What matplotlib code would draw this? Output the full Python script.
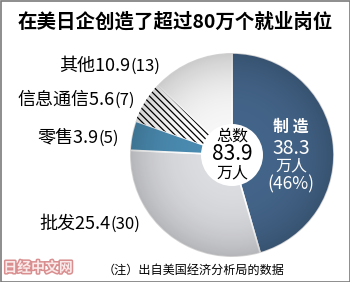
import matplotlib
matplotlib.use("Agg")
import matplotlib.pyplot as plt
import matplotlib.patheffects as pe
import numpy as np
from matplotlib.patches import Circle, Rectangle

plt.rcParams["font.family"] = ["Noto Sans CJK SC", "DejaVu Sans"]
plt.rcParams["hatch.linewidth"] = 0.9

# data, clockwise from 12 o'clock
sectors = ["制造", "批发", "零售", "信息通信", "其他"]
values = [38.3, 25.4, 3.9, 5.6, 10.9]
shares = [46, 30, 5, 7, 13]
total = 83.9
colors = ["#44658a", "#dcdde1", "#4b8cb2", "#ffffff", "#f7f7f7"]

title = "在美日企创造了超过80万个就业岗位"
note = "（注）出自美国经济分析局的数据"

W, H = 350, 282
fig = plt.figure(figsize=(W / 100, H / 100), dpi=100)
ax = fig.add_axes([0, 0, 1, 1])

cx, cy, r = 232, 282 - 155, 102

wedges, _ = ax.pie(values, colors=colors, startangle=90, counterclock=False,
                   center=(cx, cy), radius=r, frame=True,
                   wedgeprops=dict(edgecolor="white", linewidth=1.2))
ax.set_xlim(0, W)
ax.set_ylim(0, H)
ax.set_aspect("equal")
ax.axis("off")

# hatched slice: black hatch, no outline
wedges[3].set_edgecolor("black")
wedges[3].set_linewidth(0)
wedges[3].set_hatch("\\\\\\\\\\")

# soft shading, darker towards the rim
xs = np.linspace(cx - r, cx + r, 300)
ys = np.linspace(cy - r, cy + r, 300)
gx, gy = np.meshgrid(xs, ys)
rr = np.clip(np.hypot(gx - cx, gy - cy) / r, 0, 1)
shade = np.zeros((300, 300, 4))
shade[..., 3] = 0.18 * rr ** 3
im = ax.imshow(shade, extent=(cx - r, cx + r, cy - r, cy + r), origin="lower",
               zorder=2, interpolation="bilinear")
im.set_clip_path(Circle((cx, cy), r, transform=ax.transData))
ax.set_xlim(0, W)
ax.set_ylim(0, H)

ax.add_patch(Circle((cx, cy), 31, facecolor="white", edgecolor="none", zorder=5))
ax.text(cx, cy + 19, "总数", ha="center", va="center", fontsize=11.5, zorder=6)
ax.text(cx, cy + 1, f"{total}", ha="center", va="center", fontsize=15, zorder=6)
ax.text(cx, cy - 18, "万人", ha="center", va="center", fontsize=11.5, zorder=6)

# manufacturing label
mx = 291
ax.text(mx, 282 - 127, "制 造", ha="center", va="center", fontsize=11.5,
        fontweight="bold", color="white", zorder=6)
ax.text(mx, 282 - 148, f"{values[0]}", ha="center", va="center", fontsize=14,
        color="white", zorder=6)
ax.text(mx, 282 - 166, "万人", ha="center", va="center", fontsize=11.5,
        color="white", zorder=6)
ax.text(mx, 282 - 184, f"({shares[0]}%)", ha="center", va="center",
        fontsize=12.5, color="white", zorder=6)

# left labels: (index, right edge x, y)
label_pos = [(4, 160, 66), (3, 135, 100), (2, 119, 138), (1, 140, 224)]
fig.canvas.draw()
renderer = fig.canvas.get_renderer()
for i, xr, yp in label_pos:
    t2 = ax.text(xr, 282 - yp, f"({shares[i]})", ha="right", va="center",
                 fontsize=12)
    bb = t2.get_window_extent(renderer)
    x_left = ax.transData.inverted().transform((bb.x0, bb.y0))[0]
    ax.text(x_left, 282 - yp, f"{sectors[i]}{values[i]}", ha="right",
            va="center", fontsize=13)

ax.text(W / 2, 282 - 22, title, ha="center", va="center", fontsize=14,
        fontweight="bold")
ax.text(194, 282 - 270, note, ha="center", va="center", fontsize=8.7)

ax.text(38, 282 - 268, "日经中文网", ha="center", va="center", fontsize=10,
        fontweight="bold", color="#fbeaea",
        path_effects=[pe.withStroke(linewidth=2.2, foreground="#d98f8f")])

ax.add_patch(Rectangle((0.5, 0.5), W - 1, H - 1, facecolor="none",
                       edgecolor="#7a7a7a", linewidth=1.2, clip_on=False))

fig.savefig("out.png", dpi=100)
